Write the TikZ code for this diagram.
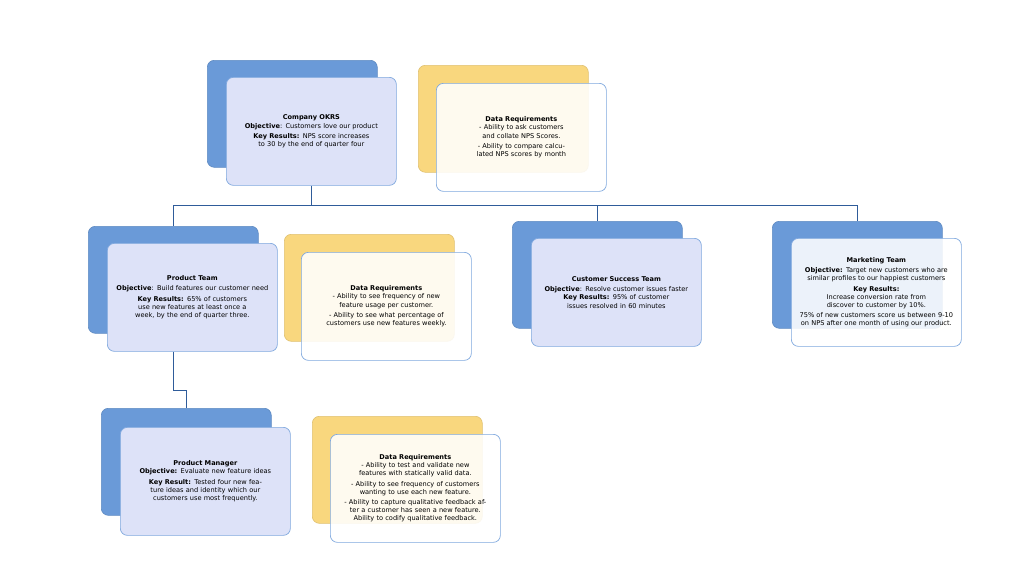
\documentclass[tikz,border=0pt]{standalone}
\usepackage{fontspec}
\setmainfont{DejaVu Sans}
\usetikzlibrary{positioning,calc}
\definecolor{backblue}{HTML}{6A9AD8}
\definecolor{backyel}{HTML}{F9D77E}
\definecolor{frontfill}{HTML}{DDE2F8}
\definecolor{frontline}{HTML}{7FA8DE}
\definecolor{linkblue}{HTML}{2F5C9A}
\tikzset{
  backcard/.style={draw=#1!90!black,fill=#1,rounded corners=7pt,minimum width=170pt,minimum height=107pt,line width=0.6pt},
  frontcard/.style={draw=frontline,fill=frontfill,rounded corners=7pt,minimum width=170pt,minimum height=108pt,
    text width=158pt,align=center,font=\fontsize{6.6}{8.2}\selectfont,line width=0.7pt},
  datacard/.style={frontcard,fill=white,fill opacity=0.88,text opacity=1},
  link/.style={draw=linkblue,line width=0.8pt},
}
\begin{document}
\begin{tikzpicture}[x=1pt,y=-1pt]
\useasboundingbox[fill=white] (0,0) rectangle (1024,571);
% company level
\node[backcard=backblue,anchor=north west] (okrsback) at (207,60) {};
\node[frontcard,anchor=north west] (okrs) at (226,77) {\textbf{Company OKRS}\\\textbf{Objective}: Customers love our product\\[2pt]\textbf{Key Results:} NPS score increases to 30 by the end of quarter four};
\node[backcard=backyel,anchor=north west] (droneback) at (418,65) {};
\node[datacard,anchor=north west] (drone) at (436,83) {\textbf{Data Requirements}\\- Ability to ask customers and collate NPS Scores.\\[2pt]- Ability to compare calculated NPS scores by month\\[18pt]};
% team level
\node[backcard=backblue,anchor=north west] (prodback) at (88,226) {};
\node[frontcard,anchor=north west] (prod) at (107,243) {\textbf{Product Team}\\[2pt]\textbf{Objective}: Build features our customer need\\[2pt]\textbf{Key Results:} 65\% of customers use new features at least once a week, by the end of quarter three.};
\node[backcard=backyel,anchor=north west] (drtwoback) at (284,234) {};
\node[datacard,anchor=north west] (drtwo) at (301,252) {\textbf{Data Requirements}\\- Ability to see frequency of new feature usage per customer.\\[2pt]- Ability to see what percentage of customers use new features weekly.};
\node[backcard=backblue,anchor=north west] (csback) at (512,221) {};
\node[frontcard,anchor=north west] (cs) at (531,238) {\textbf{Customer Success Team}\\[2pt]\textbf{Objective}: Resolve customer issues faster\\\textbf{Key Results:} 95\% of customer issues resolved in 60 minutes};
\node[backcard=backblue,anchor=north west] (mktback) at (772,221) {};
\node[datacard,anchor=north west] (mkt) at (791,238) {\textbf{Marketing Team}\\[2pt]\textbf{Objective:} Target new customers who are similar profiles to our happiest customers\\[2pt]\textbf{Key Results:}\\Increase conversion rate from discover to customer by 10\%.\\[2pt]75\% of new customers score us between 9-10 on NPS after one month of using our product.};
% manager level
\node[backcard=backblue,anchor=north west] (pmback) at (101,408) {};
\node[frontcard,anchor=north west] (pm) at (120,427) {\textbf{Product Manager}\\\textbf{Objective:} Evaluate new feature ideas\\[2pt]\textbf{Key Result:} Tested four new feature ideas and identity which our customers use most frequently.};
\node[backcard=backyel,anchor=north west] (drthreeback) at (312,416) {};
\node[datacard,anchor=north west] (drthree) at (330,434) {\textbf{Data Requirements}\\- Ability to test and validate new features with statically valid data.\\[2pt]- Ability to see frequency of customers wanting to use each new feature.\\[2pt]- Ability to capture qualitative feedback after a customer has seen a new feature. Ability to codify qualitative feedback.};
% connectors
\coordinate (bus) at ($(okrs.south)+(0,20)$);
\draw[link] (okrs.south) -- (bus) -| (prodback.north);
\draw[link] (bus) -| (csback.north);
\draw[link] (bus) -| (mktback.north);
\draw[link] (prod.south -| prodback.north) -- ++(0,39) -| (pmback.north);
\end{tikzpicture}
\end{document}
